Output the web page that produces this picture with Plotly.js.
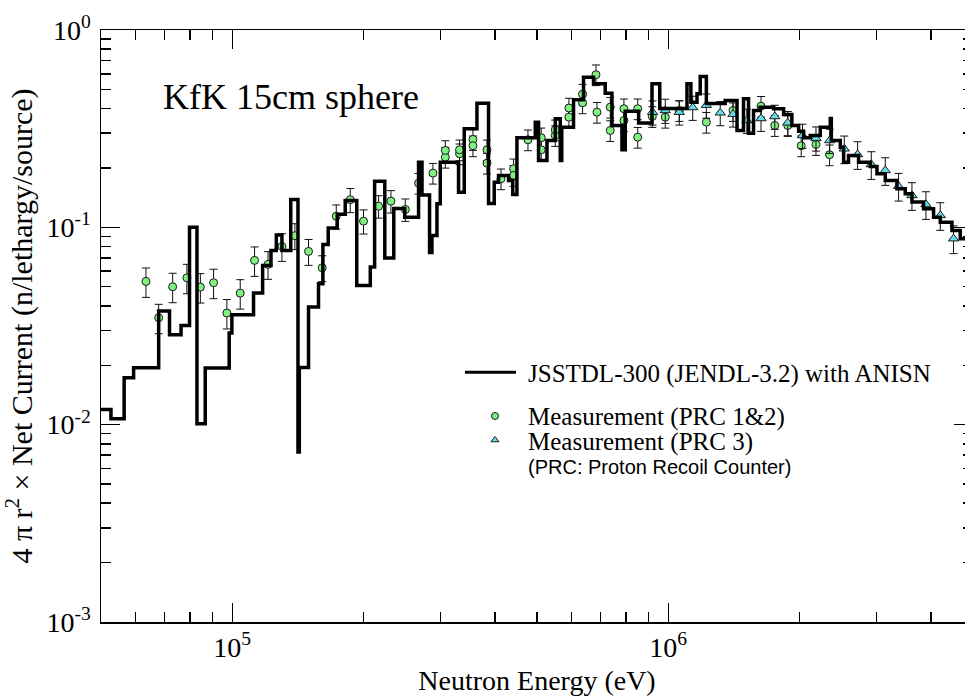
<!DOCTYPE html>
<html>
<head>
<meta charset="utf-8">
<script src="https://cdn.plot.ly/plotly-3.0.1.min.js"></script>
<style>
  html, body { margin: 0; padding: 0; overflow: hidden; background: #fff; }
  #chart { width: 980px; height: 696px; }
</style>
</head>
<body>
<div id="chart"></div>
<script>
// ---- Calculated spectrum (histogram): bin edges in eV and bin values ----
const calcEdges = [
  5.0e4, 5.27e4, 5.65e4, 5.94e4, 6.78e4, 7.18e4, 7.63e4, 7.98e4, 8.30e4, 8.67e4,
  9.84e4, 9.98e4, 1.119e5, 1.174e5, 1.227e5, 1.262e5, 1.300e5, 1.362e5, 1.415e5, 1.425e5,
  1.496e5, 1.577e5, 1.614e5, 1.660e5, 1.741e5, 1.816e5, 1.930e5, 2.073e5, 2.121e5, 2.238e5,
  2.347e5, 2.487e5, 2.675e5, 2.724e5, 2.835e5, 2.871e5, 2.948e5, 3.000e5, 3.304e5, 3.405e5,
  3.641e5, 3.871e5, 3.989e5, 4.081e5, 4.302e5, 4.398e5, 4.497e5, 4.955e5, 5.041e5, 5.270e5,
  5.506e5, 5.654e5, 5.698e5, 6.064e5, 6.392e5, 6.739e5, 7.169e5, 7.428e5, 7.831e5, 7.969e5,
  8.552e5, 9.177e5, 9.561e5, 1.104e6, 1.127e6, 1.164e6, 1.184e6, 1.223e6, 1.351e6, 1.438e6,
  1.488e6, 1.528e6, 1.569e6, 1.626e6, 1.744e6, 1.839e6, 1.921e6, 1.991e6, 2.044e6, 2.117e6,
  2.232e6, 2.353e6, 2.366e6, 2.481e6, 2.525e6, 2.591e6, 2.732e6, 2.906e6, 3.011e6, 3.146e6,
  3.346e6, 3.496e6, 3.622e6, 3.851e6, 4.060e6, 4.206e6, 4.474e6, 4.674e6, 5.0e6
];
const calcFlux = [
  0.01195, 0.01073, 0.01730, 0.01944, 0.03763, 0.02856, 0.03184, 0.1002, 0.01012, 0.01935,
  0.02911, 0.03608, 0.04642, 0.06412, 0.07638, 0.09152, 0.07638, 0.1384, 0.00726, 0.01951,
  0.03942, 0.05181, 0.08193, 0.09930, 0.1165, 0.1369, 0.05077, 0.06286, 0.1714, 0.06998,
  0.1246, 0.1126, 0.2139, 0.1459, 0.07461, 0.09099, 0.1317, 0.2139, 0.1508, 0.3158,
  0.4258, 0.1322, 0.1694, 0.1832, 0.1728, 0.1468, 0.2843, 0.3411, 0.2182, 0.2755,
  0.3550, 0.2182, 0.3218, 0.4430, 0.5767, 0.5340, 0.4784, 0.3283, 0.2472, 0.3879,
  0.3380, 0.5340, 0.4002, 0.5340, 0.4308, 0.4750, 0.5813, 0.4243, 0.4395, 0.3096,
  0.4483, 0.3000, 0.3911, 0.4064, 0.3990, 0.3731, 0.3283, 0.3071, 0.2843, 0.2920,
  0.3218, 0.3562, 0.2755, 0.2548, 0.2139, 0.2313, 0.2139, 0.2035, 0.1868, 0.1728,
  0.1568, 0.1480, 0.1342, 0.1242, 0.1126, 0.1062, 0.0964, 0.0876
];

// ---- Measurement PRC 1&2 (circles) ----
const prc12E = [
  6.34e4, 6.78e4, 7.30e4, 7.87e4, 8.45e4, 9.06e4, 9.72e4, 1.043e5, 1.125e5, 1.208e5,
  1.300e5, 1.392e5, 1.496e5, 1.608e5, 1.732e5, 1.865e5, 2.000e5, 2.166e5, 2.312e5, 2.494e5,
  2.675e5, 2.886e5, 3.081e5, 3.081e5, 3.321e5, 3.321e5, 3.565e5, 3.565e5, 3.839e5, 3.839e5,
  4.134e5, 4.418e5, 4.418e5, 4.767e5, 5.113e5, 5.113e5, 5.506e5, 5.506e5, 5.918e5, 5.918e5,
  6.360e5, 6.360e5, 6.827e5, 6.863e5, 7.362e5, 7.362e5, 7.913e5, 7.913e5, 8.511e5, 8.511e5,
  9.192e5, 9.843e5, 1.060e6, 1.223e6, 1.408e6, 1.632e6, 1.755e6, 1.880e6, 2.018e6, 2.182e6,
  2.344e6
];
const prc12V = [
  0.0532, 0.0348, 0.0500, 0.0555, 0.0498, 0.0524, 0.0368, 0.0464, 0.0680, 0.0649,
  0.0800, 0.0907, 0.0755, 0.0624, 0.1139, 0.1380, 0.1075, 0.1280, 0.1358, 0.1232,
  0.1674, 0.1882, 0.2268, 0.2453, 0.2360, 0.2472, 0.2789, 0.2591, 0.2472, 0.2115,
  0.1763, 0.1981, 0.1832, 0.2779, 0.2843, 0.2472, 0.2921, 0.3121, 0.3616, 0.4026,
  0.4277, 0.4730, 0.5936, 0.3833, 0.3096, 0.4064, 0.3479, 0.3990, 0.2863, 0.3990,
  0.3646, 0.3616, 0.3911, 0.3411, 0.3911, 0.4111, 0.3283, 0.3283, 0.2591, 0.2630,
  0.2333
];
const prc12ErrPct = [
  17, 17, 17, 17, 17, 17, 17, 17, 17, 16,
  16, 15, 15, 15, 14, 14, 14, 13, 13, 13,
  12, 12, 12, 12, 12, 12, 12, 12, 12, 12,
  12, 12, 12, 12, 12, 12, 12, 12, 12, 12,
  12, 12, 12, 12, 12, 12, 12, 12, 12, 12,
  12, 12, 12, 12, 12, 12, 12, 12, 12, 12,
  12
];

// ---- Measurement PRC 3 (triangles) ----
const prc3E = [
  9.205e5, 9.843e5, 1.060e6, 1.138e6, 1.223e6, 1.316e6, 1.408e6, 1.515e6, 1.632e6, 1.755e6,
  1.880e6, 2.032e6, 2.182e6, 2.346e6, 2.534e6, 2.718e6, 2.922e6, 3.146e6, 3.375e6, 3.622e6,
  3.900e6, 4.206e6, 4.512e6
];
const prc3V = [
  0.3833, 0.3911, 0.3833, 0.4050, 0.4159, 0.3806, 0.3745, 0.3479, 0.3562, 0.3646,
  0.3388, 0.2921, 0.2830, 0.2755, 0.2501, 0.2341, 0.2083, 0.1942, 0.1617, 0.1451,
  0.1306, 0.1149, 0.0876
];
const prc3ErrPct = [
  14, 14, 14, 14, 14, 14, 14, 14, 14, 14,
  14, 14, 14, 14, 16, 16, 16, 16, 16, 16,
  16, 16, 16
];

// ---- Axis ticks ----
const xTickVals = [1e5, 1e6];
const xTickText = ['10<sup>5</sup>', '10<sup>6</sup>'];
const xMinorVals = [6e4, 7e4, 8e4, 9e4, 2e5, 3e5, 4e5, 5e5, 6e5, 7e5, 8e5, 9e5, 2e6, 3e6, 4e6];
const yTickVals = [1e-3, 1e-2, 1e-1, 1];
const yTickText = ['10<sup>-3</sup>', '10<sup>-2</sup>', '10<sup>-1</sup>', '10<sup>0</sup>'];
const yMinorVals = [2e-3, 3e-3, 4e-3, 5e-3, 6e-3, 7e-3, 8e-3, 9e-3,
                    2e-2, 3e-2, 4e-2, 5e-2, 6e-2, 7e-2, 8e-2, 9e-2,
                    0.2, 0.3, 0.4, 0.5, 0.6, 0.7, 0.8, 0.9];

// ---- Text ----
const titleText = 'KfK 15cm sphere';
const xTitle = 'Neutron Energy (eV)';
const yTitle = '4 \u03c0 r<sup>2</sup> \u00d7 Net Current (n/lethargy/source)';
const legendCalc = 'JSSTDL-300 (JENDL-3.2) with ANISN';
const legendPRC12 = 'Measurement (PRC 1&amp;2)';
const legendPRC3 = 'Measurement (PRC 3)';
const legendNote = '(PRC: Proton Recoil Counter)';

const SERIF = 'Liberation Serif, Times New Roman, Times, serif';
const SANS = 'Liberation Sans, Arial, Helvetica, sans-serif';
const GREEN = '#80F080';
const CYAN = '#66DDEE';

const histX = calcEdges.slice();
const histY = calcFlux.concat([calcFlux[calcFlux.length - 1]]);

const traces = [
  {
    x: prc12E, y: prc12V, type: 'scatter', mode: 'markers', name: legendPRC12,
    marker: { symbol: 'circle', size: 8, color: GREEN, line: { color: '#1a1a1a', width: 1 } },
    error_y: { type: 'data', array: prc12V.map((v, i) => v * prc12ErrPct[i] / 100),
               color: '#111', thickness: 1, width: 4 },
    cliponaxis: true
  },
  {
    x: prc3E, y: prc3V, type: 'scatter', mode: 'markers', name: legendPRC3,
    marker: { symbol: 'triangle-up', size: 9, color: CYAN, line: { color: '#1a1a1a', width: 1 } },
    error_y: { type: 'data', array: prc3V.map((v, i) => v * prc3ErrPct[i] / 100),
               color: '#111', thickness: 1, width: 4 },
    cliponaxis: true
  },
  {
    x: histX, y: histY, type: 'scatter', mode: 'lines', name: legendCalc,
    line: { shape: 'hv', color: '#000', width: 3.5 }
  },
  // legend symbols (on an invisible overlay axis, 0..1)
  {
    x: [0.4174, 0.4759], y: [0.4218, 0.4218], xaxis: 'x2', yaxis: 'y2',
    type: 'scatter', mode: 'lines', line: { color: '#000', width: 3 }, hoverinfo: 'skip'
  },
  {
    x: [0.4518], y: [0.3480], xaxis: 'x2', yaxis: 'y2', type: 'scatter', mode: 'markers',
    marker: { symbol: 'circle', size: 7, color: GREEN, line: { color: '#1a1a1a', width: 1 } },
    hoverinfo: 'skip'
  },
  {
    x: [0.4518], y: [0.3074], xaxis: 'x2', yaxis: 'y2', type: 'scatter', mode: 'markers',
    marker: { symbol: 'triangle-up', size: 7, color: CYAN, line: { color: '#1a1a1a', width: 1 } },
    hoverinfo: 'skip'
  }
];

const axisCommon = {
  type: 'log', tickmode: 'array', ticks: 'inside', ticklen: 19, tickwidth: 1.5,
  tickcolor: '#000', showline: true, linewidth: 1.5, linecolor: '#000', mirror: 'ticks',
  showgrid: false, zeroline: false
};

const layout = {
  width: 980, height: 696,
  margin: { l: 101, r: 7, t: 30, b: 74 },
  paper_bgcolor: '#fff', plot_bgcolor: '#fff',
  showlegend: false,
  font: { family: SERIF, color: '#000' },
  xaxis: Object.assign({}, axisCommon, {
    range: [Math.log10(5e4), Math.log10(5e6)],
    tickvals: xTickVals, ticktext: xTickText,
    tickfont: { family: SERIF, size: 28, color: '#000' },
    minor: { tickmode: 'array', tickvals: xMinorVals, ticks: 'inside', ticklen: 10,
             tickwidth: 1.5, tickcolor: '#000', showgrid: false },
    title: { text: xTitle, font: { family: SERIF, size: 28, color: '#000' }, standoff: 10 }
  }),
  yaxis: Object.assign({}, axisCommon, {
    range: [-3, 0],
    tickvals: yTickVals, ticktext: yTickText,
    tickfont: { family: SERIF, size: 28, color: '#000' },
    ticklabelstandoff: 3,
    minor: { tickmode: 'array', tickvals: yMinorVals, ticks: 'inside', ticklen: 10,
             tickwidth: 1.5, tickcolor: '#000', showgrid: false },
    title: { text: yTitle, font: { family: SERIF, size: 30, color: '#000' }, standoff: 6 }
  }),
  xaxis2: { overlaying: 'x', anchor: 'y2', range: [0, 1], visible: false, fixedrange: true },
  yaxis2: { overlaying: 'y', anchor: 'x2', range: [0, 1], visible: false, fixedrange: true },
  annotations: [
    { text: titleText, xref: 'paper', yref: 'paper', x: 0.069, y: 0.8868,
      xanchor: 'left', yanchor: 'middle', showarrow: false,
      font: { family: SERIF, size: 36, color: '#000' } },
    { text: legendCalc, xref: 'paper', yref: 'paper', x: 0.4874, y: 0.4189,
      xanchor: 'left', yanchor: 'middle', showarrow: false,
      font: { family: SERIF, size: 25, color: '#000' } },
    { text: legendPRC12, xref: 'paper', yref: 'paper', x: 0.4874, y: 0.3465,
      xanchor: 'left', yanchor: 'middle', showarrow: false,
      font: { family: SERIF, size: 25, color: '#000' } },
    { text: legendPRC3, xref: 'paper', yref: 'paper', x: 0.4874, y: 0.3045,
      xanchor: 'left', yanchor: 'middle', showarrow: false,
      font: { family: SERIF, size: 25, color: '#000' } },
    { text: legendNote, xref: 'paper', yref: 'paper', x: 0.4874, y: 0.2625,
      xanchor: 'left', yanchor: 'middle', showarrow: false,
      font: { family: SANS, size: 20, color: '#000' } }
  ]
};

Plotly.newPlot('chart', traces, layout, { displayModeBar: false, staticPlot: true });
</script>
</body>
</html>
